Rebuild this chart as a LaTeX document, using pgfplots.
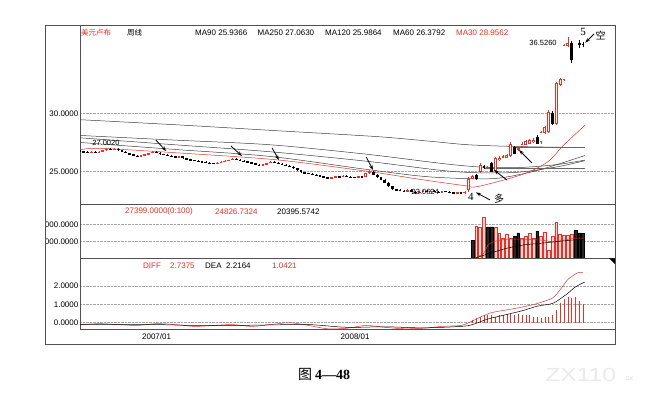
\documentclass[border=0pt]{standalone}
\usepackage{fontspec}
\setmainfont{Liberation Sans}
\newfontfamily\cjk{Noto Sans CJK SC}
\newfontfamily\capserif{Liberation Serif}
\usepackage{pgfplots}
\pgfplotsset{compat=1.18}
\usepackage{pgfplotstable}
\usetikzlibrary{arrows.meta}
\definecolor{mred}{RGB}{228,52,40}
\definecolor{framec}{RGB}{80,80,80}

\pgfplotstableread{
w o h l c
3 26.65 26.76 26.61 26.72
5 26.60 26.74 26.56 26.70
6 26.70 26.89 26.66 26.85
7 26.85 26.99 26.81 26.95
9 26.88 27.00 26.84 26.98
16 26.28 26.44 26.24 26.40
17 26.40 26.54 26.36 26.50
18 26.50 26.64 26.46 26.60
19 26.60 26.76 26.56 26.72
26 26.22 26.34 26.18 26.30
36 25.66 25.82 25.62 25.78
37 25.78 25.88 25.74 25.84
38 25.84 25.96 25.80 25.92
39 25.92 26.04 25.88 26.00
40 26.00 26.16 25.96 26.10
48 25.54 25.66 25.50 25.62
49 25.62 25.78 25.58 25.74
50 25.74 25.92 25.70 25.86
66 24.44 24.56 24.40 24.52
67 24.52 24.66 24.48 24.62
69 24.54 24.68 24.50 24.64
73 24.48 24.64 24.44 24.60
75 24.54 24.92 24.50 24.88
76 24.88 25.10 24.84 25.00
86 23.32 23.48 23.28 23.44
89 23.18 23.32 23.14 23.28
90 23.28 23.40 23.24 23.36
92 23.28 23.40 23.24 23.36
95 23.24 23.38 23.20 23.34
99 23.16 23.28 23.12 23.24
101 23.14 23.34 23.10 23.30
102 23.40 24.50 23.30 24.40
103 24.40 24.70 24.35 24.62
105 24.95 25.70 24.90 25.60
107 25.30 25.50 25.25 25.42
109 25.05 26.25 25.00 26.15
110 26.00 26.30 25.95 26.20
111 26.10 26.40 26.05 26.30
112 26.20 26.50 26.15 26.40
113 26.30 27.50 26.25 27.40
115 26.85 27.10 26.80 27.00
116 27.15 27.50 27.10 27.40
117 27.30 27.70 27.25 27.60
118 27.40 27.80 27.35 27.70
119 27.50 27.85 27.45 27.72
121 27.50 28.50 27.40 28.40
122 28.30 28.90 28.20 28.80
123 28.40 30.30 28.30 30.10
125 29.10 32.70 29.00 32.60
126 32.40 33.00 32.30 32.90
127 32.85 35.95 32.80 35.85
128 35.80 36.526 35.70 36.00
}\upc

\pgfplotstableread{
w o h l c
0 26.80 26.84 26.71 26.75
1 26.75 26.79 26.66 26.70
2 26.70 26.74 26.61 26.65
4 26.72 26.76 26.56 26.60
8 26.95 26.99 26.84 26.88
10 26.98 27.002 26.81 26.85
11 26.85 26.89 26.66 26.70
12 26.70 26.74 26.56 26.60
13 26.60 26.64 26.44 26.48
14 26.48 26.52 26.31 26.35
15 26.35 26.39 26.24 26.28
20 26.72 26.76 26.58 26.62
21 26.62 26.66 26.46 26.50
22 26.50 26.54 26.40 26.44
23 26.44 26.48 26.34 26.38
24 26.38 26.42 26.26 26.30
25 26.30 26.34 26.18 26.22
27 26.30 26.34 26.11 26.15
28 26.15 26.19 26.04 26.08
29 26.08 26.12 25.96 26.00
30 26.00 26.04 25.90 25.94
31 25.94 25.98 25.84 25.88
32 25.88 25.92 25.80 25.84
33 25.84 25.88 25.74 25.78
34 25.78 25.82 25.70 25.74
35 25.74 25.78 25.62 25.66
41 26.10 26.14 25.98 26.02
42 26.02 26.06 25.90 25.94
43 25.94 25.98 25.84 25.88
44 25.88 25.92 25.76 25.80
45 25.80 25.84 25.66 25.70
46 25.70 25.74 25.56 25.60
47 25.60 25.64 25.50 25.54
51 25.86 25.90 25.72 25.76
52 25.76 25.80 25.64 25.68
53 25.68 25.72 25.56 25.60
54 25.60 25.64 25.46 25.50
55 25.50 25.54 25.40 25.44
56 25.44 25.48 25.26 25.30
57 25.30 25.34 25.06 25.10
58 25.10 25.14 24.92 24.96
59 24.96 25.00 24.84 24.88
60 24.88 24.92 24.78 24.82
61 24.82 24.86 24.70 24.74
62 24.74 24.78 24.64 24.68
63 24.68 24.72 24.56 24.60
64 24.60 24.64 24.48 24.52
65 24.52 24.56 24.40 24.44
68 24.62 24.66 24.50 24.54
70 24.64 24.68 24.54 24.58
71 24.58 24.62 24.48 24.52
72 24.52 24.56 24.44 24.48
74 24.60 24.64 24.50 24.54
77 25.00 25.04 24.68 24.72
78 24.72 24.76 24.46 24.50
79 24.50 24.54 24.26 24.30
80 24.30 24.34 24.00 24.04
81 24.04 24.08 23.70 23.74
82 23.74 23.78 23.46 23.50
83 23.50 23.54 23.40 23.44
84 23.44 23.48 23.34 23.38
85 23.38 23.42 23.28 23.32
87 23.44 23.48 23.26 23.30
88 23.30 23.34 23.06 23.18
91 23.36 23.40 23.24 23.28
93 23.36 23.40 23.26 23.30
94 23.30 23.34 23.20 23.24
96 23.34 23.38 23.24 23.28
97 23.28 23.32 23.18 23.22
98 23.22 23.26 23.12 23.16
100 23.24 23.28 23.10 23.14
104 24.70 24.80 24.30 24.40
106 25.50 25.60 25.25 25.30
108 25.70 25.80 24.95 25.00
114 27.10 27.20 26.50 26.55
120 28.00 28.10 27.35 27.40
124 30.00 30.20 29.00 29.10
129 36.00 36.20 34.30 34.55
131 36.00 36.30 35.60 35.85
132 35.95 36.10 35.70 35.85
}\downc

\pgfplotstableread{
w v
104 38000
105 37000
106 48000
109 36000
110 30000
111 24000
112 28000
113 24000
116 24000
117 26000
118 30000
119 24000
121 26000
122 31000
123 10000
124 26000
125 43000
126 28000
127 27000
128 27000
129 28000
}\volup

\pgfplotstableread{
w v
103 21000
107 37000
108 37000
114 26000
115 30000
120 32000
130 33000
131 30000
132 29000
}\voldown

\pgfplotstableread{
w m
103 0.15
104 0.24
105 0.33
106 0.42
107 0.42
108 0.42
109 0.33
110 0.42
111 0.42
112 0.50
113 0.50
114 0.42
115 0.50
116 0.42
117 0.42
118 0.42
119 0.33
120 0.33
121 0.25
122 0.33
123 0.33
124 0.42
125 0.69
126 1.05
127 1.30
128 1.42
129 1.33
130 1.42
131 1.20
132 1.04
}\macdbar

\pgfplotsset{
  panel/.style={
    scale only axis, width=535pt, xmin=0, xmax=140.4,
    anchor=north west,
    axis line style={framec, line width=0.7pt},
    major tick length=0pt,
    ymajorgrids, grid style={densely dotted, gray!70, line width=0.5pt},
    tick label style={font=\fontsize{8}{9}\selectfont},
    yticklabel style={inner sep=1.5pt},
    scaled y ticks=false,
    /pgf/number format/assume math mode=true,
  },
  body/.style={draw=none, mark=none, error bars/.cd, y dir=both, y explicit, error mark=none,
    error bar style={line width=#1}},
}

\begin{document}
\begin{tikzpicture}
\useasboundingbox (0,0) rectangle (661pt,-403pt);
\fill[white] (0,0) rectangle (661pt,-403pt);

% ---------------- price panel
\begin{axis}[panel, at={(80pt,-25pt)}, height=179pt,
  ymin=22.23, ymax=37.56, xtick=\empty,
  ytick={25,30}, yticklabels={25.0000,30.0000}]
\addplot[black!75, line width=0.5pt, smooth] coordinates {(0,29.45) (26,29.0) (52,28.5) (78,28.0) (92,27.6) (102,27.3) (115,27.15) (132.5,27.06)};
\addplot[black!75, line width=0.5pt, smooth] coordinates {(0,28.1) (25,27.7) (50,27.3) (75,26.5) (95,25.7) (105,25.4) (115,25.35) (125,25.6) (132.5,25.99)};
\addplot[black!75, line width=0.5pt, smooth] coordinates {(0,27.9) (25,27.3) (50,26.7) (75,25.9) (95,25.1) (105,24.9) (115,24.95) (125,25.4) (132.5,25.94)};
\addplot[black!75, line width=0.5pt, smooth] coordinates {(0,27.5) (25,26.9) (50,26.3) (75,25.2) (90,24.6) (102,24.4) (110,24.45) (120,25.1) (132.5,26.38)};
\addplot[gray!80!black, line width=1.1pt] coordinates {(106,25.3) (132.5,25.3)};
\addplot[gray!80!black, line width=1.1pt] coordinates {(113.5,27.06) (132.5,27.06)};
\addplot[mred, line width=0.5pt, smooth] coordinates {(0,26.85) (5,27.0) (26,26.6) (52,26.0) (76,25.0) (90,24.3) (101,23.8) (104,23.7) (113,24.45) (118,25.0) (123,25.9) (127,27.3) (132.5,28.96)};
\addplot[body=0.5pt, error bar style={draw=mred}] table[x=w, y expr={(\thisrow{h}+\thisrow{l})/2}, y error expr={(\thisrow{h}-\thisrow{l})/2}] {\upc};
\addplot[body=0.5pt, error bar style={draw=black}] table[x=w, y expr={(\thisrow{h}+\thisrow{l})/2}, y error expr={(\thisrow{h}-\thisrow{l})/2}] {\downc};
\addplot[body=2.8pt, error bar style={draw=mred}] table[x=w, y expr={(\thisrow{o}+\thisrow{c})/2}, y error expr={abs(\thisrow{c}-\thisrow{o})/2}] {\upc};
\addplot[body=1.2pt, error bar style={draw=white}] table[x=w, y expr={(\thisrow{o}+\thisrow{c})/2}, y error expr={max(abs(\thisrow{c}-\thisrow{o})/2-0.09,0)}] {\upc};
\addplot[body=2.8pt, error bar style={draw=black}] table[x=w, y expr={(\thisrow{o}+\thisrow{c})/2}, y error expr={abs(\thisrow{c}-\thisrow{o})/2}] {\downc};
\node[font=\fontsize{7.5}{8}\selectfont] at (axis cs:6.8,27.48) {27.0020};
\node[font=\fontsize{7.5}{8}\selectfont] at (axis cs:90.6,23.29) {23.0624};
\node[font=\fontsize{7.5}{8}\selectfont, anchor=east] at (axis cs:126,35.99) {36.5260};
\node[font=\capserif\fontsize{11}{12}\selectfont] at (axis cs:102.6,22.82) {4};
\node[font=\cjk\fontsize{10}{11}\selectfont] at (axis cs:110,22.65) {多};
\node[font=\capserif\fontsize{11}{12}\selectfont] at (axis cs:132,36.96) {5};
\node[font=\cjk\fontsize{10}{11}\selectfont] at (axis cs:136.6,36.7) {空};
\begin{scope}[-{Stealth[length=5pt,width=3.5pt]}, line width=0.8pt, black]
\draw (axis cs:19.9,27.71) -- (axis cs:22.6,26.77);
\draw (axis cs:39.6,27.2) -- (axis cs:42.5,26.34);
\draw (axis cs:50.4,27.03) -- (axis cs:52.2,26.0);
\draw (axis cs:75.1,26.26) -- (axis cs:76.9,25.15);
\draw (axis cs:112.1,24.27) -- (axis cs:108.7,25.13);
\draw (axis cs:118.6,25.74) -- (axis cs:115.2,26.86);
\draw (axis cs:107.6,22.58) -- (axis cs:103.9,23.22);
\draw (axis cs:134.9,36.79) -- (axis cs:132.6,36.05);
\end{scope}
\end{axis}

% ---------------- volume panel
\begin{axis}[panel, at={(80pt,-204pt)}, height=54.3pt,
  ymin=0, ymax=63900, xtick=\empty,
  ytick={20000,40000}, yticklabels={000.0000,000.0000}]
\addplot[ybar, bar width=2.8pt, bar shift=0pt, draw=mred, fill=mred!18, line width=0.5pt] table[x=w, y=v] {\volup};
\addplot[ybar, bar width=2.8pt, bar shift=0pt, draw=black, fill=black!85] table[x=w, y=v] {\voldown};
\addplot[mred, line width=0.5pt, smooth] coordinates {(103.5,0) (105.9,5900) (107.6,17600) (112,22400) (120.7,21600) (124.2,19600) (129.5,23500) (132.1,23500)};
\addplot[black, line width=0.5pt, smooth] coordinates {(103.5,0) (107.6,5900) (112,11800) (116.4,15700) (120.7,17600) (129.5,21600) (132.5,22400)};
\end{axis}

% ---------------- MACD panel
\begin{axis}[panel, at={(80pt,-258.3pt)}, height=71.4pt,
  ymin=-0.38, ymax=3.51,
  ytick={0,1,2}, yticklabels={0.0000,1.0000,2.0000},
  xtick={20.1,72.2}, xticklabels={2007/01,2008/01}, xtick pos=bottom]
\addplot[ycomb, mred, line width=0.5pt, mark=none] table[x=w, y=m] {\macdbar};
\addplot[mred, line width=0.5pt, smooth] coordinates {(0,-0.1) (5,-0.05) (10,-0.1) (15,-0.15) (20,-0.05) (25,-0.1) (30,-0.2) (35,-0.15) (40,-0.1) (45,-0.2) (50,-0.1) (55,0.0) (60,-0.15) (65,-0.33) (70,-0.3) (75,-0.15) (80,-0.25) (85,-0.33) (90,-0.3) (95,-0.2) (100,-0.15) (102,0.0) (105,0.3) (108,0.55) (112,0.7) (116,0.85) (120,1.05) (124,1.35) (126,1.8) (128,2.35) (130,2.65) (131,2.74) (132,2.74)};
\addplot[black, line width=0.5pt, smooth] coordinates {(0,-0.1) (10,-0.1) (20,-0.1) (30,-0.15) (40,-0.15) (50,-0.12) (60,-0.1) (70,-0.25) (80,-0.22) (90,-0.28) (100,-0.2) (103,-0.1) (107,0.2) (112,0.45) (116,0.65) (120,0.9) (124,1.05) (126,1.3) (128,1.6) (130,1.95) (132.5,2.22)};
\end{axis}

% ---------------- frame and texts
\draw[framec, line width=0.8pt] (45pt,-25pt) rectangle (615pt,-344pt);
\fill[black] (609pt,-258.3pt) -- (615pt,-258.3pt) -- (615pt,-264pt) -- cycle;

\begin{scope}[every node/.style={anchor=west, inner sep=0pt, font=\fontsize{8}{9}\selectfont}]
\node[text=mred, font=\cjk\fontsize{7.5}{8}\selectfont] at (81pt,-33pt) {美元卢布};
\node[font=\cjk\fontsize{7.5}{8}\selectfont] at (127pt,-33pt) {周线};
\node at (195pt,-33pt) {MA90 25.9366};
\node at (257.5pt,-33pt) {MA250 27.0630};
\node at (325pt,-33pt) {MA120 25.9864};
\node at (393pt,-33pt) {MA60 26.3792};
\node[text=mred] at (456pt,-33pt) {MA30 28.9562};
\node[text=mred] at (125pt,-211.7pt) {27399.0000(0:100)};
\node[text=mred] at (215pt,-211.7pt) {24826.7324};
\node at (277pt,-211.7pt) {20395.5742};
\node[text=mred] at (143pt,-265.7pt) {DIFF};
\node[text=mred] at (170pt,-265.7pt) {2.7375};
\node at (205pt,-265.7pt) {DEA};
\node at (226pt,-265.7pt) {2.2164};
\node[text=mred] at (272pt,-265.7pt) {1.0421};
\end{scope}

\node[anchor=west, inner sep=0pt] at (298pt,-374pt) {{\cjk\fontsize{14}{15}\selectfont 图}\hspace{3pt}{\capserif\bfseries\fontsize{14}{15}\selectfont 4—48}};
\node[anchor=west, inner sep=0pt, text=gray!16, font=\fontsize{19}{20}\selectfont, xscale=1.3] at (545pt,-375pt) {ZX110};
\node[anchor=west, inner sep=0pt, text=gray!25, font=\fontsize{7}{8}\selectfont] at (624pt,-379pt) {.cx};
\end{tikzpicture}
\end{document}
